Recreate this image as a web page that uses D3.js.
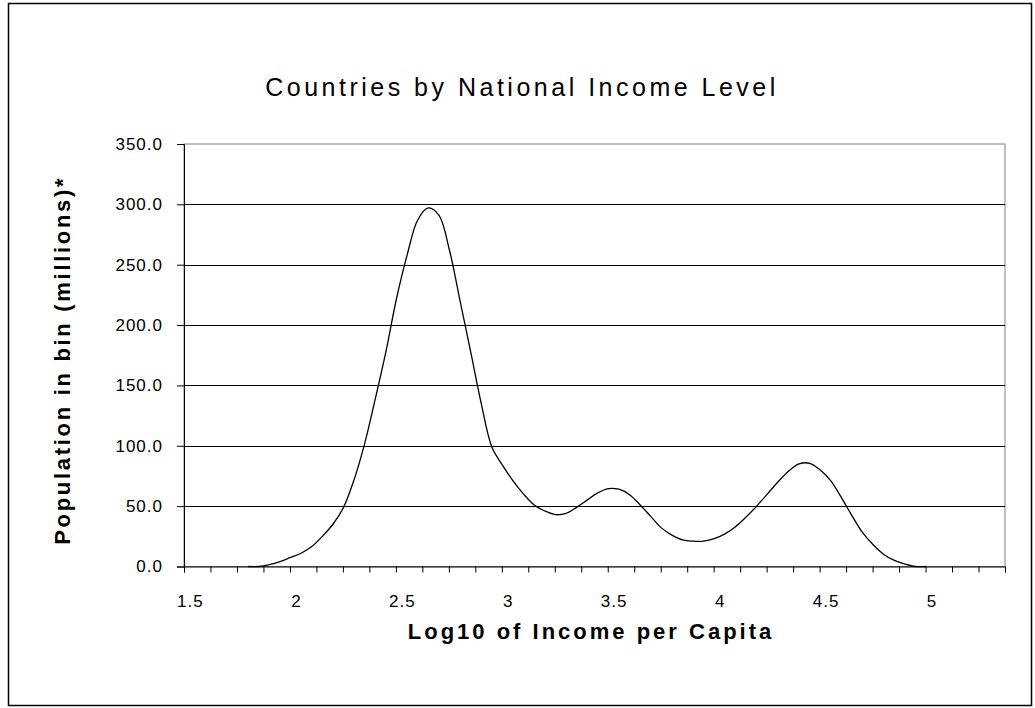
<!DOCTYPE html>
<html>
<head>
<meta charset="utf-8">
<script src="https://cdn.jsdelivr.net/npm/d3@7"></script>
<style>
  html, body { margin: 0; padding: 0; background: #fff; }
  svg { display: block; }
  text { font-family: "Liberation Sans", Arial, sans-serif; fill: #000; }
</style>
</head>
<body>
<svg id="chart" width="1035" height="708"></svg>
<script>
// ---- data ----
const title = "Countries by National Income Level";
const xTitle = "Log10 of Income per Capita";
const yTitle = "Population in bin (millions)*";
const binCenters = [
  1.775, 1.825, 1.875, 1.925, 1.975, 2.025, 2.075, 2.125, 2.175, 2.225,
  2.275, 2.325, 2.375, 2.425, 2.475, 2.525, 2.575, 2.625, 2.675, 2.725,
  2.775, 2.825, 2.875, 2.925, 2.975, 3.025, 3.075, 3.125, 3.175, 3.225,
  3.275, 3.325, 3.375, 3.425, 3.475, 3.525, 3.575, 3.625, 3.675, 3.725,
  3.775, 3.825, 3.875, 3.925, 3.975, 4.025, 4.075, 4.125, 4.175, 4.225,
  4.275, 4.325, 4.375, 4.425, 4.475, 4.525, 4.575, 4.625, 4.675, 4.725,
  4.775, 4.825, 4.875, 4.925, 4.975
];
const population = [
  0, 0, 1.5, 4, 7.5, 11, 16.5, 25, 35, 49,
  72, 102, 139, 178, 222, 258, 287, 297, 291, 262,
  220, 178, 135, 99, 84, 71, 60, 51, 46, 43,
  44, 49, 55, 61, 64.5, 64, 59.5, 51, 41.5, 32,
  26, 22, 21, 21, 23, 27, 33, 41, 50, 60,
  70, 79, 85, 85.5, 80, 71, 57, 42, 28, 18,
  10, 5, 2, 0, 0
];
const yTicks = [0, 50, 100, 150, 200, 250, 300, 350];
const xLabels = [1.5, 2, 2.5, 3, 3.5, 4, 4.5, 5];

// ---- layout ----
const svg = d3.select("#chart");
const plot = { left: 184, right: 1005, top: 144, bottom: 566.5 };

svg.append("rect")
  .attr("x", 8.5).attr("y", 3.5).attr("width", 1023).attr("height", 702)
  .attr("fill", "#fff").attr("stroke", "#000").attr("stroke-width", 1.5);

const xStart = 1.472, xStep = 0.125, nMinor = 31;
const x = d3.scaleLinear()
  .domain([xStart, xStart + nMinor * xStep])
  .range([plot.left, plot.right]);
const y = d3.scaleLinear().domain([0, 350]).range([plot.bottom, plot.top]);

// plot area border (gray)
svg.append("rect")
  .attr("x", plot.left).attr("y", plot.top)
  .attr("width", plot.right - plot.left).attr("height", plot.bottom - plot.top)
  .attr("fill", "none").attr("stroke", "#808080").attr("stroke-width", 1);

// gridlines
svg.append("g").selectAll("line")
  .data(yTicks.filter(d => d > 0 && d < 350))
  .join("line")
  .attr("x1", plot.left).attr("x2", plot.right)
  .attr("y1", d => Math.round(y(d)) + 0.5).attr("y2", d => Math.round(y(d)) + 0.5)
  .attr("stroke", "#000").attr("stroke-width", 1);

// y axis
const yAxis = d3.axisLeft(y).tickValues(yTicks).tickSize(7).tickPadding(14)
  .tickFormat(d3.format(".1f"));
const gy = svg.append("g").attr("transform", `translate(${plot.left},0)`).call(yAxis);
gy.select(".domain").attr("stroke", "#000");
gy.selectAll(".tick line").attr("stroke", "#000");
gy.selectAll(".tick text").style("font-size", "17px").style("letter-spacing", "1px");

// x axis minor ticks
const minorTicks = d3.range(nMinor + 1).map(i => xStart + i * xStep);
const xAxis = d3.axisBottom(x).tickValues(minorTicks).tickSize(6).tickFormat("");
const gx = svg.append("g").attr("transform", `translate(0,${plot.bottom})`).call(xAxis);
gx.select(".domain").attr("stroke", "#000");
gx.selectAll(".tick line").attr("stroke", "#000");

// x labels
const xLab = d3.axisBottom(x).tickValues(xLabels).tickSize(0).tickPadding(28)
  .tickFormat(d3.format("~g"));
const gxl = svg.append("g").attr("transform", `translate(0,${plot.bottom})`).call(xLab);
gxl.select(".domain").remove();
gxl.selectAll(".tick text").style("font-size", "17px").style("letter-spacing", "1px");

// line
const line = d3.line()
  .x((d, i) => x(binCenters[i]))
  .y(d => y(d))
  .curve(d3.curveCatmullRom.alpha(0.5));
svg.append("path")
  .datum(population)
  .attr("d", line)
  .attr("fill", "none").attr("stroke", "#000").attr("stroke-width", 1.3);

// titles
svg.append("text").attr("x", 522).attr("y", 96).attr("text-anchor", "middle")
  .style("font-size", "25px").style("letter-spacing", "3.5px").text(title);
svg.append("text").attr("x", 591).attr("y", 639).attr("text-anchor", "middle")
  .style("font-size", "22px").style("font-weight", "bold").style("letter-spacing", "3px")
  .text(xTitle);
svg.append("text")
  .attr("transform", `translate(70,${(plot.top + plot.bottom) / 2 + 5}) rotate(-90)`)
  .attr("text-anchor", "middle")
  .style("font-size", "22px").style("font-weight", "bold").style("letter-spacing", "2.7px")
  .text(yTitle);
</script>
</body>
</html>
